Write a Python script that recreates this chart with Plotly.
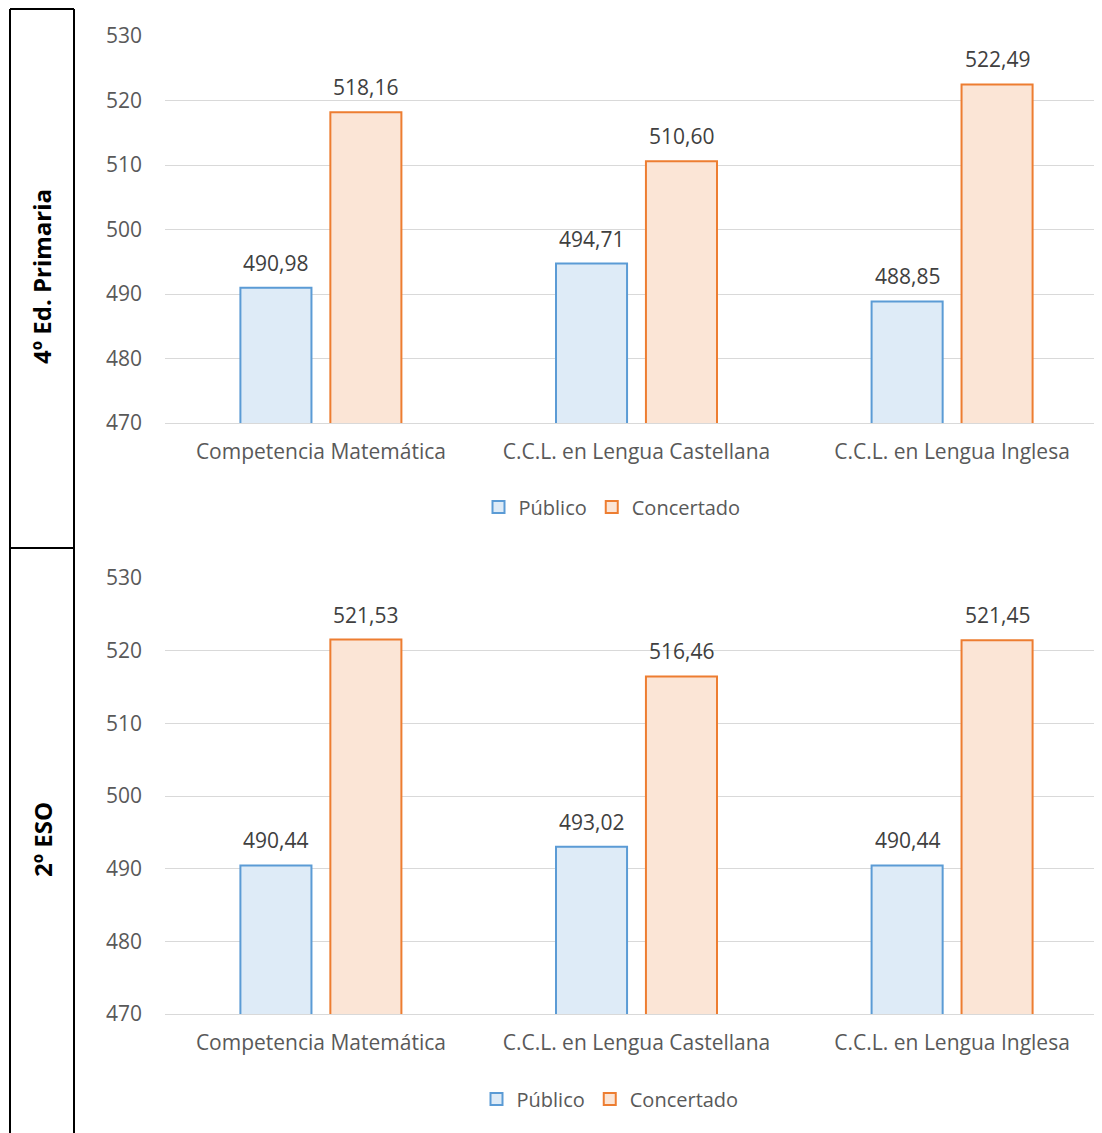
import plotly.graph_objects as go

categories = ["Competencia Matemática", "C.C.L. en Lengua Castellana", "C.C.L. en Lengua Inglesa"]
series_names = ["Público", "Concertado"]
primaria_publico = [490.98, 494.71, 488.85]
primaria_concertado = [518.16, 510.60, 522.49]
eso_publico = [490.44, 493.02, 490.44]
eso_concertado = [521.53, 516.46, 521.45]
panel_titles = ["4º Ed. Primaria", "2º ESO"]
y_ticks = [470, 480, 490, 500, 510, 520, 530]

W, H = 1102, 1133
OFF = 8  # page body margin
FONT = "Open Sans"
fills = ["#DEEBF7", "#FBE5D6"]
lines = ["#5B9BD5", "#ED7D31"]
bar_shift = [-45, 45]


def px(x):
    return (x - OFF) / W


def py(y):
    return 1 - (y - OFF) / H


fig = go.Figure()

panels = [
    (primaria_publico, primaria_concertado, "x", "y", "legend"),
    (eso_publico, eso_concertado, "x2", "y2", "legend2"),
]

for pub, con, xa, ya, lg in panels:
    for si, vals in enumerate([pub, con]):
        fig.add_trace(go.Bar(
            x=categories, y=vals, name=series_names[si],
            xaxis=xa, yaxis=ya, legend=lg,
            marker=dict(color=fills[si], line=dict(color=lines[si], width=2)),
            cliponaxis=True, hoverinfo="skip",
        ))
        for c, v in zip(categories, vals):
            fig.add_annotation(
                x=c, y=v, xref=xa, yref=ya, text=f"{v:.2f}".replace(".", ","),
                showarrow=False, xanchor="center", yanchor="bottom",
                xshift=bar_shift[si], yshift=9,
                font=dict(family=FONT, size=21, color="#404040"),
            )

xdom = [px(165), px(1102)]
common_x = dict(range=[-0.494, 2.475], showgrid=False, showline=True, linecolor="#D9D9D9",
                linewidth=1, ticks="", tickfont=dict(family=FONT, size=21, color="#595959"),
                ticklabelstandoff=10, fixedrange=True, automargin=False)
common_y = dict(range=[470, 530], tickvals=y_ticks, showgrid=True, gridcolor="#D9D9D9",
                gridwidth=1, zeroline=False, showline=False, ticks="",
                tickfont=dict(family=FONT, size=21, color="#595959"),
                ticklabelstandoff=22, fixedrange=True, automargin=False)

leg_common = dict(orientation="h", xanchor="center", yanchor="middle",
                  font=dict(family=FONT, size=20, color="#595959"), itemwidth=30,
                  traceorder="normal", bgcolor="rgba(0,0,0,0)")

fig.update_layout(
    width=W, height=H, margin=dict(l=0, r=0, t=0, b=0, autoexpand=False),
    paper_bgcolor="white", plot_bgcolor="white",
    barmode="group", bargap=0.43, bargroupgap=0.21,
    xaxis=dict(domain=xdom, anchor="y", **common_x),
    yaxis=dict(domain=[py(423), py(36)], anchor="x", **common_y),
    xaxis2=dict(domain=xdom, anchor="y2", **common_x),
    yaxis2=dict(domain=[py(1014), py(578)], anchor="x2", **common_y),
    legend=dict(x=px(612), y=py(507), **leg_common),
    legend2=dict(x=px(610), y=py(1099), **leg_common),
    showlegend=True,
)

# left label box
bx0, bx1 = px(10), px(74)
line_style = dict(color="black", width=2)
ytop = py(9)
ybot = py(1140)
fig.add_shape(type="line", xref="paper", yref="paper", x0=bx0, x1=bx0, y0=ybot, y1=ytop, line=line_style)
fig.add_shape(type="line", xref="paper", yref="paper", x0=bx1, x1=bx1, y0=ybot, y1=ytop, line=line_style)
fig.add_shape(type="line", xref="paper", yref="paper", x0=bx0, x1=bx1, y0=ytop, y1=ytop, line=line_style)
fig.add_shape(type="line", xref="paper", yref="paper", x0=bx0, x1=bx1, y0=py(548), y1=py(548), line=line_style)

for title, yc in zip(panel_titles, [277, 840]):
    fig.add_annotation(text="<b>" + title + "</b>", xref="paper", yref="paper",
                       x=px(42), y=py(yc), showarrow=False, textangle=-90,
                       font=dict(family=FONT, size=24, color="black"),
                       xanchor="center", yanchor="middle")

fig.write_html("out.html")
